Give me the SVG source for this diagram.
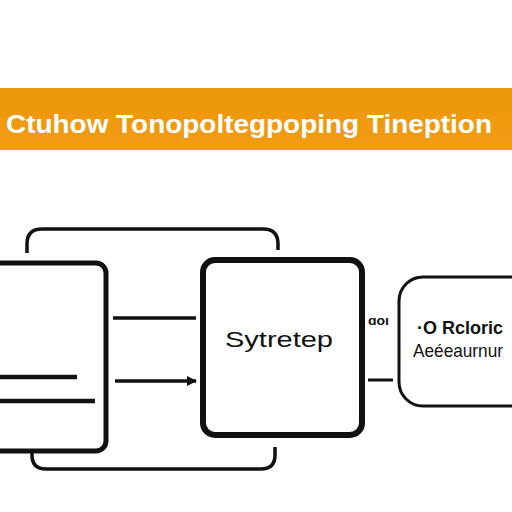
<svg xmlns="http://www.w3.org/2000/svg" width="512" height="512" viewBox="0 0 512 512">
<defs>
<linearGradient id="bannerGrad" x1="0" y1="0" x2="0" y2="1">
<stop offset="0" stop-color="#EA9608"/>
<stop offset="1" stop-color="#F29C14"/>
</linearGradient>
<marker id="arrow" markerWidth="10" markerHeight="10" refX="9" refY="5" orient="auto" markerUnits="userSpaceOnUse">
<path d="M0,0 L10,5 L0,10 Z" fill="#111"/>
</marker>
<style>
.box{fill:#fff;stroke:#111;}
.line{stroke:#111;fill:none;stroke-linecap:butt;}
.title{font-family:"Liberation Sans","DejaVu Sans",sans-serif;font-weight:bold;font-size:26px;fill:#fff;}
.lbl{font-family:"Liberation Sans","DejaVu Sans",sans-serif;fill:#111;}
</style>
</defs>
<rect width="512" height="512" fill="#fff"/>
<g id="banner">
<rect x="0" y="88" width="512" height="62" fill="url(#bannerGrad)"/>
<text class="title" x="6" y="133" textLength="486" lengthAdjust="spacingAndGlyphs">Ctuhow Tonopoltegpoping Tineption</text>
</g>
<g id="connectors">
<path class="line" stroke-width="3.5" d="M27,253 V244 Q27,229 42,229 H263 Q278,229 278,244 V250"/>
<path class="line" stroke-width="3.5" d="M32,450 V455 Q32,469 46,469 H261 Q275,469 275,455 V447"/>
<line class="line" stroke-width="3.5" x1="113" y1="318" x2="196" y2="318"/>
<line class="line" stroke-width="3.5" x1="115" y1="381" x2="196" y2="381" marker-end="url(#arrow)"/>
<line class="line" stroke-width="3" x1="368" y1="380" x2="393" y2="380"/>
</g>
<g id="node-left">
<rect class="box" x="-20" y="263" width="126" height="188" rx="10" stroke-width="5"/>
<line class="line" stroke-width="4.5" x1="0" y1="377" x2="77" y2="377" stroke-linecap="round"/>
<line class="line" stroke-width="4.5" x1="0" y1="401" x2="95" y2="401"/>
</g>
<g id="node-middle">
<rect class="box" x="203" y="260" width="159" height="175" rx="12" stroke-width="6"/>
<text class="lbl" x="279" y="347" font-size="22" text-anchor="middle" textLength="108" lengthAdjust="spacingAndGlyphs">Sytretep</text>
</g>
<g id="label-small">
<text class="lbl" x="368" y="325" font-size="13" font-weight="bold" textLength="21" lengthAdjust="spacingAndGlyphs">ɑoı</text>
</g>
<g id="node-right">
<rect class="box" x="399" y="277" width="140" height="129" rx="24" stroke-width="3"/>
<text class="lbl" x="417" y="334" font-size="18" font-weight="bold" textLength="86" lengthAdjust="spacingAndGlyphs">·O Rcloric</text>
<text class="lbl" x="413" y="357" font-size="19" textLength="90" lengthAdjust="spacingAndGlyphs">Aeéeaurnur</text>
</g>
</svg>
